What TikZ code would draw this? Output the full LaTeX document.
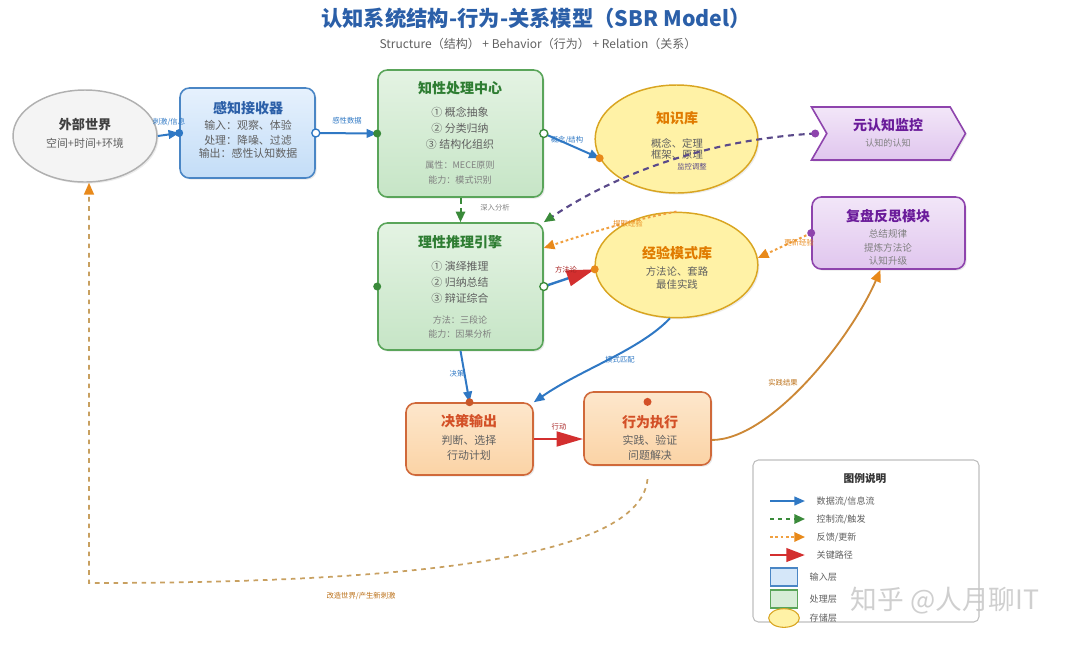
\documentclass[tikz,border=0pt]{standalone}
\usepackage{fontspec}
\setmainfont{Noto Sans CJK SC}
\usetikzlibrary{arrows.meta,shapes.geometric,shapes.symbols,shadows,calc}
\definecolor{ttlblue}{HTML}{2B5FA8}
\definecolor{fblue}{HTML}{2F78C4}
\definecolor{fgreen}{HTML}{3A8A3A}
\definecolor{forange}{HTML}{F0A040}
\definecolor{forhead}{HTML}{E8891A}
\definecolor{fred}{HTML}{D32F2F}
\definecolor{fpurple}{HTML}{5A4A8A}
\definecolor{txtgray}{HTML}{606060}
\definecolor{lgtgray}{HTML}{808080}
\definecolor{gtitle}{HTML}{2E7D32}
\definecolor{otitle}{HTML}{E07B00}
\definecolor{ptitle}{HTML}{6A1B9A}
\definecolor{rtitle}{HTML}{D35027}
\definecolor{owfill}{HTML}{F4F4F4}
\definecolor{owbd}{HTML}{B0B0B0}
\definecolor{sbt}{HTML}{E6F1FD}
\definecolor{sbb}{HTML}{C3DDF7}
\definecolor{sbd}{HTML}{4A86C5}
\definecolor{gbt}{HTML}{E4F3E3}
\definecolor{gbb}{HTML}{C6E5C6}
\definecolor{gbd}{HTML}{5AA55A}
\definecolor{ybf}{HTML}{FFF2A6}
\definecolor{ybd}{HTML}{D9A521}
\definecolor{pbt}{HTML}{F2E6F8}
\definecolor{pbb}{HTML}{E0C6EE}
\definecolor{pbd}{HTML}{8E44AD}
\definecolor{obt}{HTML}{FDE7CC}
\definecolor{obb}{HTML}{FBD3A5}
\definecolor{obd}{HTML}{D0693A}
\definecolor{dotor}{HTML}{C8582A}
\definecolor{botdash}{HTML}{C8A060}
\begin{document}
\begin{tikzpicture}[x=0.75pt,y=-0.75pt,
  box/.style={draw, rounded corners=7pt, line width=1.2pt, inner sep=0pt,
    drop shadow={shadow xshift=1.2pt,shadow yshift=-1.2pt,opacity=0.18}},
  oval/.style={ellipse, draw, line width=1.1pt, inner sep=0pt,
    drop shadow={shadow xshift=1.2pt,shadow yshift=-1.2pt,opacity=0.15}},
  ttl/.style={font=\fontsize{10.5pt}{12pt}\selectfont\bfseries},
  body/.style={font=\fontsize{8.2pt}{10pt}\selectfont, text=txtgray},
  attr/.style={font=\fontsize{6.8pt}{8pt}\selectfont, text=lgtgray},
  lbl/.style={font=\fontsize{5.5pt}{6pt}\selectfont},
  legtxt/.style={font=\fontsize{6.8pt}{8pt}\selectfont, text=txtgray, anchor=west},
  flow/.style={draw=fblue, line width=1.5pt, -{Triangle[length=8pt,width=6.5pt]}},
  ctrl/.style={draw=fpurple, line width=1.6pt, dash pattern=on 4.5pt off 3.5pt,
    -{Triangle[length=8pt,width=7pt,color=fgreen]}},
  ctrlg/.style={draw=fgreen, line width=1.5pt, dash pattern=on 4.5pt off 3.5pt,
    -{Triangle[length=8pt,width=7pt,color=fgreen]}},
  fbk/.style={draw=forange, line width=1.5pt, dash pattern=on 2pt off 2pt,
    -{Triangle[length=8pt,width=7pt,color=forhead]}},
  keyp/.style={draw=fred, line width=2.2pt, -{Triangle[length=20pt,width=11pt,color=fred]}},
]
\useasboundingbox (0,0) rectangle (1080,644);

% title
\node[font=\fontsize{16pt}{18pt}\selectfont\bfseries, text=ttlblue] (title) at (536,18) {认知系统结构-行为-关系模型（SBR Model）};
\node[font=\fontsize{9pt}{10pt}\selectfont, text=txtgray] (sub) at (538,44) {Structure（结构） + Behavior（行为） + Relation（关系）};

% outer world
\node[oval, draw=owbd, fill=owfill, minimum width=108pt, minimum height=69pt] (ow) at (85,136) {};
\node[ttl, font=\fontsize{9.8pt}{12pt}\selectfont\bfseries, text=black!75] (owt) at (85,125) {外部世界};
\node[body] (owb) at (85,143) {空间+时间+环境};

% sensor
\node[box, draw=sbd, top color=sbt, bottom color=sbb, minimum width=101.25pt, minimum height=67.5pt] (sen) at (247.5,133) {};
\node[ttl, text=ttlblue] (sent) at (248,108) {感知接收器};
\node[body] at (248,125) {输入：观察、体验};
\node[body] at (248,140) {处理：降噪、过滤};
\node[body] at (248,153) {输出：感性认知数据};

% knowledge center
\node[box, draw=gbd, top color=gbt, bottom color=gbb, minimum width=123.75pt, minimum height=95.25pt] (kc) at (460.5,133.5) {};
\node[ttl, text=gtitle] (kct) at (460,88) {知性处理中心};
\node[body] at (460,112) {① 概念抽象};
\node[body] at (460,128) {② 分类归纳};
\node[body] at (460,144) {③ 结构化组织};
\node[attr] at (460,165) {属性：MECE原则};
\node[attr] at (460,180) {能力：模式识别};

% reasoning engine
\node[box, draw=gbd, top color=gbt, bottom color=gbb, minimum width=123.75pt, minimum height=95.25pt] (re) at (460.5,286.5) {};
\node[ttl, text=gtitle] (ret) at (460,242) {理性推理引擎};
\node[body] at (460,266) {① 演绎推理};
\node[body] at (460,282) {② 归纳总结};
\node[body] at (460,298) {③ 辩证综合};
\node[attr] at (460,320) {方法：三段论};
\node[attr] at (460,334) {能力：因果分析};

% knowledge base
\node[oval, draw=ybd, fill=ybf, minimum width=122pt, minimum height=81pt] (kb) at (676.5,139) {};
\node[ttl, text=otitle] (kbt) at (677,118) {知识库};
\node[body, font=\fontsize{7.8pt}{9pt}\selectfont] at (677,143) {概念、定理};
\node[body, font=\fontsize{7.8pt}{9pt}\selectfont] at (677,155) {框架、原理};

% experience
\node[oval, draw=ybd, fill=ybf, minimum width=122pt, minimum height=79pt] (ex) at (676.5,265) {};
\node[ttl, text=otitle] (ext) at (677,253) {经验模式库};
\node[body, font=\fontsize{7.8pt}{9pt}\selectfont] at (677,272) {方法论、套路};
\node[body, font=\fontsize{7.8pt}{9pt}\selectfont] at (677,285) {最佳实践};

% meta monitor
\node[signal, signal from=west, signal to=east, signal pointer angle=120, draw=pbd, line width=1.2pt,
  top color=pbt, bottom color=pbb, minimum width=115.5pt, minimum height=39.75pt, inner sep=0pt,
  drop shadow={shadow xshift=1.2pt,shadow yshift=-1.2pt,opacity=0.15}] (meta) at (888.5,133.5) {};
\node[ttl, text=ptitle] (metat) at (888,125) {元认知监控};
\node[attr] at (888,143) {认知的认知};

% reflection
\node[box, draw=pbd, top color=pbt, bottom color=pbb, minimum width=114.75pt, minimum height=54pt] (ref) at (888.5,233) {};
\node[ttl, text=ptitle] (reft) at (888,216) {复盘反思模块};
\node[attr, font=\fontsize{7.2pt}{8pt}\selectfont] at (888,234) {总结规律};
\node[attr, font=\fontsize{7.2pt}{8pt}\selectfont] at (888,248) {提炼方法论};
\node[attr, font=\fontsize{7.2pt}{8pt}\selectfont] at (888,261) {认知升级};

% decision
\node[box, draw=obd, top color=obt, bottom color=obb, minimum width=95.25pt, minimum height=54pt] (dec) at (469.5,439) {};
\node[ttl, text=rtitle] (dect) at (469,421) {决策输出};
\node[body] at (469,440) {判断、选择};
\node[body] at (469,455) {行动计划};

% action
\node[box, draw=obd, top color=obt, bottom color=obb, minimum width=95.25pt, minimum height=54.75pt] (act) at (647.5,428.5) {};
\node[ttl, text=rtitle] (actt) at (650,422) {行为执行};
\node[body] at (650,440) {实践、验证};
\node[body] at (650,455) {问题解决};

% ---------- connectors ----------
\draw[flow] (ow.east) -- (sen.west);
\node[lbl, text=fblue] at (169,122) {刺激/信息};

\draw[flow] (sen.east) -- (kc.west);
\node[lbl, text=fblue] at (347,121) {感性数据};

\draw[flow] (kc.east) -- (kb.194);
\node[lbl, text=fblue] at (567,140) {概念/结构};

\draw[ctrlg] (kc.south) -- (re.north);
\node[lbl, text=lgtgray] at (495,208) {深入分析};

\coordinate (metaL) at ([xshift=-8pt]meta.west);
\draw[ctrl] (metaL) .. controls (700,140) and (610,178) .. (re.north east);
\node[lbl, text=fpurple] at (692,167) {监控调整};

\coordinate (reIn) at ($(re.north east)!0.2!(re.south east)$);
\draw[fbk] (ex.north) .. controls (630,220) and (580,236) .. (reIn);
\node[lbl, text=forhead] at (628,224) {提取经验};

\draw[draw=fblue, line width=1.8pt, -{Triangle[length=21pt,width=12pt,color=fred]}] (re.east) -- (ex.183);
\node[lbl, text=fred!80!black] at (566,270) {方法论};

\draw[fbk] (ref.west) -- (ex.5);
\node[lbl, text=forhead] at (799,243) {更新经验};

\draw[flow] (re.south) -- (dec.north);
\node[lbl, text=fblue] at (457,374) {决策};

\draw[flow] (ex.-97) .. controls (640,350) and (580,370) .. (dec.north east);
\node[lbl, text=fblue] at (620,360) {模式匹配};

\draw[keyp] (dec.east) -- (act.west |- dec.east);
\node[lbl, text=fred!80!black] at (559,427) {行动};

\draw[draw=forange!85!black, line width=1.4pt, -{Triangle[length=9pt,width=7.5pt,color=forhead]}]
  ([yshift=-8.6pt]act.east) .. controls (770,440) and (850,340) .. ([xshift=-6pt]ref.south);
\node[lbl, text=forhead!80!black] at (783,383) {实践结果};

\coordinate (corner) at (89,583);
\draw[draw=botdash, line width=1.3pt, dash pattern=on 3.5pt off 3.5pt, -{Triangle[length=9pt,width=7.5pt,color=forhead]}]
  ([yshift=-10pt]act.south) .. controls (640,560) and (400,583) .. (corner) -- (ow.south -| corner);
\node[lbl, text=forhead!80!black] at (361,596) {改造世界/产生新刺激};

% ---------- endpoint dots ----------
\fill[fblue] (sen.west) circle (3pt);
\draw[fblue, line width=1pt, fill=white] (sen.east) circle (3pt);
\fill[fgreen] (kc.west) circle (3pt);
\draw[fgreen, line width=1pt, fill=white] (kc.east) circle (3pt);
\fill[fgreen] (re.west) circle (3pt);
\draw[fgreen, line width=1pt, fill=white] (re.east) circle (3pt);
\fill[forhead] (kb.194) circle (3pt);
\fill[forhead] (ex.183) circle (3pt);
\fill[pbd] (metaL) circle (3pt);
\fill[pbd] (ref.west) circle (3pt);
\fill[dotor] (dec.north) circle (3pt);
\fill[rtitle] ([yshift=-8pt]act.north) circle (3pt);

% ---------- legend ----------
\node[draw=black!25, fill=white, rounded corners=4pt, line width=0.8pt, minimum width=169.5pt, minimum height=121.5pt, inner sep=0pt] (leg) at (866,541) {};
\node[font=\fontsize{8pt}{10pt}\selectfont\bfseries, text=black!80] (legt) at (865,478) {图例说明};
\draw[flow] (770,501) -- (805,501);
\node[legtxt] at (812,501) {数据流/信息流};
\draw[draw=fgreen, line width=1.5pt, dash pattern=on 3pt off 3pt, -{Triangle[length=8pt,width=7pt,color=fgreen]}] (770,519) -- (805,519);
\node[legtxt] at (812,519) {控制流/触发};
\draw[fbk] (770,537) -- (805,537);
\node[legtxt] at (812,537) {反馈/更新};
\draw[draw=fred, line width=2.2pt, -{Triangle[length=14pt,width=10pt,color=fred]}] (770,555) -- (805,555);
\node[legtxt] at (812,555) {关键路径};
\node[draw=sbd, fill=sbb!70, minimum width=20.5pt, minimum height=13.5pt, inner sep=0pt, line width=0.8pt] (lg1) at (784,577) {};
\node[legtxt] at (805,577) {输入层};
\node[draw=gbd, fill=gbb!70, minimum width=20.5pt, minimum height=13.5pt, inner sep=0pt, line width=0.8pt] (lg2) at (784,599) {};
\node[legtxt] at (805,599) {处理层};
\node[ellipse, draw=ybd, fill=ybf, minimum width=23pt, minimum height=14pt, inner sep=0pt, line width=0.8pt] (lg3) at (784,618) {};
\node[legtxt] at (805,618) {存储层};

% watermark
\node[font=\fontsize{20pt}{22pt}\selectfont, text=black!22, opacity=0.85] (wm) at (945,601) {知乎 @人月聊IT};
\end{tikzpicture}
\end{document}
